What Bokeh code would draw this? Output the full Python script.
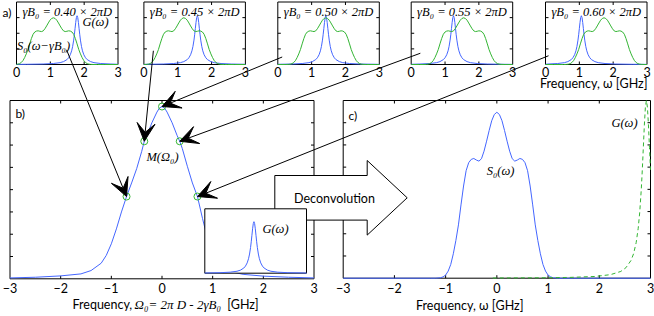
import numpy as np
from bokeh.plotting import figure
from bokeh.models import Range1d, Arrow, VeeHead, ColumnDataSource
from bokeh.core.properties import value
from bokeh.embed import file_html
from bokeh.resources import INLINE

# ---------------- data ----------------
# S0(omega): spectrum, panel c  [GHz, a.u.]
s0_omega = [-3.0, -2.0, -1.5, -1.3, -1.2, -1.1, -1.05, -1.0, -0.95, -0.9, -0.85, -0.8, -0.75,
            -0.7, -0.65, -0.6, -0.55, -0.5, -0.45, -0.4, -0.35, -0.3, -0.25, -0.2, -0.15,
            -0.1, -0.05, 0.0, 0.05, 0.1, 0.15, 0.2, 0.25, 0.3, 0.35, 0.4, 0.45, 0.5, 0.55,
            0.6, 0.65, 0.7, 0.75, 0.8, 0.85, 0.9, 0.95, 1.0, 1.05, 1.1, 1.2, 1.3, 1.5, 2.0, 3.0]
s0_value = [0.0, 0.0, 0.0, 0.0, 0.0, 0.002, 0.006, 0.014, 0.032, 0.062, 0.110, 0.170, 0.240,
            0.330, 0.415, 0.484, 0.520, 0.535, 0.539, 0.532, 0.527, 0.538, 0.572, 0.617, 0.665,
            0.709, 0.737, 0.747, 0.737, 0.709, 0.665, 0.617, 0.572, 0.538, 0.527, 0.532, 0.539,
            0.535, 0.520, 0.484, 0.415, 0.330, 0.240, 0.170, 0.110, 0.062, 0.032, 0.014, 0.006,
            0.002, 0.0, 0.0, 0.0, 0.0, 0.0]

# G(omega): narrow line shape, offset from its centre, peak normalised to 1
g_offset = [-4.0, -3.0, -2.0, -1.5, -1.0, -0.7, -0.5, -0.4, -0.3, -0.25, -0.2, -0.16, -0.13,
            -0.1, -0.08, -0.06, -0.04, -0.02, 0.0, 0.02, 0.04, 0.06, 0.08, 0.1, 0.13, 0.16,
            0.2, 0.25, 0.3, 0.4, 0.5, 0.7, 1.0, 1.5, 2.0, 3.0, 4.0]
g_shape = [0.0006, 0.0011, 0.0025, 0.0044, 0.0099, 0.020, 0.038, 0.059, 0.100, 0.138, 0.200,
           0.281, 0.372, 0.500, 0.610, 0.735, 0.862, 0.962, 1.0, 0.962, 0.862, 0.735, 0.610,
           0.500, 0.372, 0.281, 0.200, 0.138, 0.100, 0.059, 0.038, 0.020, 0.0099, 0.0044,
           0.0025, 0.0011, 0.0006]

# M(Omega0): measured signal, panel b
m_omega = [-3.0, -2.5, -2.0, -1.6, -1.4, -1.2, -1.1, -1.0, -0.9, -0.8, -0.7, -0.6, -0.5, -0.4,
           -0.35, -0.3, -0.2, -0.1, -0.05, 0.0, 0.05, 0.1, 0.2, 0.3, 0.35, 0.4, 0.5, 0.6, 0.7,
           0.8, 0.9, 1.0, 1.1, 1.2, 1.4, 1.6, 2.0, 2.5, 3.0]
m_value = [0.004, 0.007, 0.013, 0.022, 0.037, 0.070, 0.105, 0.157, 0.224, 0.300, 0.369, 0.430,
           0.494, 0.572, 0.617, 0.642, 0.700, 0.748, 0.766, 0.773, 0.766, 0.748, 0.700, 0.642,
           0.617, 0.585, 0.505, 0.430, 0.369, 0.270, 0.180, 0.115, 0.075, 0.050, 0.030, 0.020,
           0.012, 0.007, 0.004]

# panel a: five field values, centre of shifted S0 (green) and of G (blue)
gammaB0 = [0.40, 0.45, 0.50, 0.55, 0.60]
s0_centres = [1.09, 1.18, 1.42, 1.55, 1.73]
g_centres = [1.79, 1.58, 1.42, 1.25, 1.06]
omega_marks = [-0.7, -0.35, 0.0, 0.35, 0.7]   # points of M marked in panel b
g_peak_top = 0.78
g_peak_inset = 0.80
g_centre_inset = 1.45
g_peak_c = 0.80
g_centre_c = 2.92

top_ticks = [0, 1, 2, 3]
top_tick_labels = ["0", "1", "2", "3"]
big_ticks = [-3, -2, -1, 0, 1, 2, 3]
big_tick_labels = ["\u22123", "\u22122", "\u22121", "0", "1", "2", "3"]

# ---------------- layout (reference pixel space) ----------------
W, H = 654, 316
X0, X1 = 0.0, 654.0
Y0, Y1 = 0.0, 316.0
BLUE = "#4466ff"
GREEN = "#33b533"
SANS = "Lato"
SERIF = "Liberation Serif"

top_lefts = [16.0, 143.4, 277.3, 410.7, 545.0]
panels = {}
for k, l in enumerate(top_lefts):
    panels[f"a{k}"] = dict(box=(l, 1.5, l + 101.5, 64.0), xlim=(0, 3), ylim=(0, 1))
panels["b"] = dict(box=(9.5, 100.0, 313.5, 278.3), xlim=(-3, 3), ylim=(0, 0.8))
panels["c"] = dict(box=(342.7, 100.0, 650.0, 277.7), xlim=(-3, 3), ylim=(0, 0.8))
panels["ins"] = dict(box=(204.3, 208.3, 306.0, 272.7), xlim=(0, 3), ylim=(0, 1))

p = figure(width=W, height=H, x_range=Range1d(X0, X1), y_range=Range1d(Y1, Y0),
           output_backend="svg", toolbar_location=None,
           x_axis_location=None, y_axis_location=None, min_border=0,
           outline_line_color=None, background_fill_color="white",
           border_fill_color="white")
p.grid.visible = False

xr, yr = {}, {}
for name, P in panels.items():
    l, t, r, b = P["box"]
    (x0, x1), (y0, y1) = P["xlim"], P["ylim"]
    sx = (x1 - x0) / (r - l)
    sy = (y1 - y0) / (b - t)
    xr[name] = Range1d(x0 + (X0 - l) * sx, x0 + (X1 - l) * sx)
    yr[name] = Range1d(y0 + (b - Y1) * sy, y0 + (b - Y0) * sy)
p.extra_x_ranges = xr
p.extra_y_ranges = yr


def to_ref(name, x, y):
    l, t, r, b = panels[name]["box"]
    (x0, x1), (y0, y1) = panels[name]["xlim"], panels[name]["ylim"]
    return l + (x - x0) / (x1 - x0) * (r - l), b - (y - y0) / (y1 - y0) * (b - t)


def frame(name, xt, yt, tick=3.0):
    P = panels[name]
    l, t, r, b = P["box"]
    (x0, x1), (y0, y1) = P["xlim"], P["ylim"]
    sx = (x1 - x0) / (r - l)
    sy = (y1 - y0) / (b - t)
    kw = dict(x_range_name=name, y_range_name=name)
    p.quad(left=[x0], right=[x1], bottom=[y0], top=[y1], fill_color="white",
           line_color="black", line_width=1, **kw)
    xs0, ys0, xs1, ys1 = [], [], [], []
    for v in xt:
        xs0 += [v, v]; xs1 += [v, v]
        ys0 += [y0, y1]; ys1 += [y0 + tick * sy, y1 - tick * sy]
    for v in yt:
        ys0 += [v, v]; ys1 += [v, v]
        xs0 += [x0, x1]; xs1 += [x0 + tick * sx, x1 - tick * sx]
    if xs0:
        p.segment(x0=xs0, y0=ys0, x1=xs1, y1=ys1, line_color="black", line_width=1, **kw)


def txt(x, y, s, font=SANS, size="12px", style="normal", align="center", xname="default",
        yname="default"):
    xs = x if isinstance(x, list) else [x]
    ys = y if isinstance(y, list) else [y] * len(xs)
    ss = s if isinstance(s, list) else [s] * len(xs)
    p.text(x=xs, y=ys, text=ss, text_font=value(font), text_font_size=size,
           text_font_style=style, text_align=align, text_baseline="middle",
           text_color="black", x_range_name=xname, y_range_name=yname)


s0w = np.array(s0_omega)
s0v = np.array(s0_value)
gd = np.array(g_offset)
gs = np.array(g_shape)

# ---- panel b ----
frame("b", [-2, -1, 0, 1, 2], [0.1 * i for i in range(1, 8)])
p.line(m_omega, m_value, line_color=BLUE, line_width=1, x_range_name="b", y_range_name="b")
m_lookup = dict(zip(m_omega, m_value))
m_marks = [m_lookup[o] for o in omega_marks]
p.scatter(omega_marks, m_marks, marker="circle", size=7, fill_color=None, line_color=GREEN,
          line_width=1, x_range_name="b", y_range_name="b")

# ---- panel c ----
frame("c", [-2, -1, 0, 1, 2], [0.1 * i for i in range(1, 8)])
p.line(s0_omega, s0_value, line_color=BLUE, line_width=1, x_range_name="c", y_range_name="c")
gcx = gd + g_centre_c
keep = (gcx >= -0.3) & (gcx <= 3.0 + 1e-9)
p.line(gcx[keep], gs[keep] * g_peak_c, line_color=GREEN, line_width=1, line_dash="4 3",
       x_range_name="c", y_range_name="c")

# ---- deconvolution block arrow ----
p.patch([274.3, 366.7, 366.7, 406.7, 366.7, 366.7, 274.3],
        [175.0, 175.0, 160.0, 197.3, 234.6, 219.6, 219.6],
        fill_color="white", line_color="black", line_width=1)
txt(334, 197.5, "Deconvolution", size="12.5px")

# ---- inset of b ----
frame("ins", [], [])
p.line(np.clip(gd + g_centre_inset, 0, 3), gs * g_peak_inset, line_color=BLUE, line_width=1,
       x_range_name="ins", y_range_name="ins")

# ---- panel a (five small plots) ----
for k in range(5):
    name = f"a{k}"
    frame(name, [1, 2], [0.25, 0.5, 0.75])
    p.line(np.clip(gd + g_centres[k], 0, 3), gs * g_peak_top, line_color=BLUE, line_width=1,
           x_range_name=name, y_range_name=name)
    p.line(np.clip(s0w + s0_centres[k], 0, 3), s0v, line_color=GREEN, line_width=1,
           x_range_name=name, y_range_name=name)
    l, t, r, b = panels[name]["box"]
    txt((l + r) / 2, 11.7, f"\u03b3B\u2080 = {gammaB0[k]:.2f} \u00d7 2\u03c0D", font=SERIF,
        size="12.5px", style="italic")
    txt(top_ticks, 71.3, top_tick_labels, xname=name, size="12.5px")

# ---- arrows from panel a to panel b ----
arrow_from = [(1.48, 0.235), (0.28, 0.22), (0.13, 0.12), (0.27, 0.18), (0.09, 0.14)]
xs_, ys_, xe_, ye_ = [], [], [], []
for k in range(5):
    sx_, sy_ = to_ref(f"a{k}", *arrow_from[k])
    ex_, ey_ = to_ref("b", omega_marks[k], m_marks[k])
    xs_.append(sx_); ys_.append(sy_); xe_.append(ex_); ye_.append(ey_)
src = ColumnDataSource(dict(xs=xs_, ys=ys_, xe=xe_, ye=ye_))
p.add_layout(Arrow(x_start="xs", y_start="ys", x_end="xe", y_end="ye", source=src,
                   line_color="black", line_width=1,
                   end=VeeHead(size=18, fill_color="black", line_color="black", line_width=1)))

# ---- texts ----
txt(2, 12, "a)", align="left")
txt(95, 21.7, "G(\u03c9)", font=SERIF, size="12.5px", style="italic")
txt(43, 45, "S\u2080(\u03c9\u2212\u03b3B\u2080)", font=SERIF, size="12.5px", style="italic")
txt(593, 83, "Frequency, \u03c9 [GHz]", size="12.5px")
txt(15, 113, "b)", align="left")
txt(348, 115, "c)", align="left")
txt(162, 156, "M(\u03a9\u2080)", font=SERIF, size="12.5px", style="italic")
txt(275, 228, "G(\u03c9)", font=SERIF, size="12.5px", style="italic")
txt(500, 170, "S\u2080(\u03c9)", font=SERIF, size="12.5px", style="italic")
txt(624, 122, "G(\u03c9)", font=SERIF, size="12.5px", style="italic")
txt(big_ticks, 287, big_tick_labels, xname="b", size="12.5px")
txt(big_ticks, 287, big_tick_labels, xname="c", size="12.5px")
txt(131.7, 303.5, "Frequency,", size="12.5px", align="right")
txt(134, 303.5, "\u03a9\u2080= 2\u03c0 D - 2\u03b3B\u2080", font=SERIF, size="13px",
    style="italic", align="left")
txt(258, 303.5, "[GHz]", size="12.5px", align="right")
txt(469, 305, "Frequency, \u03c9 [GHz]", size="12.5px")

open("out.html", "w").write(file_html(p, INLINE))
